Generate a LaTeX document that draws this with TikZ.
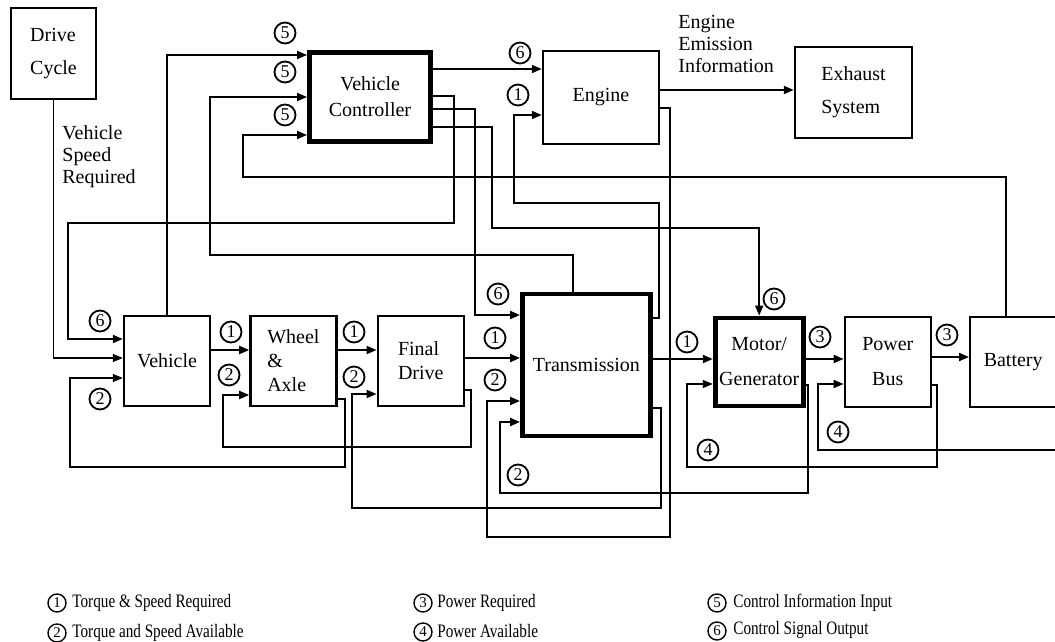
\documentclass[tikz,border=0pt]{standalone}
\usepackage{fontspec}
\setmainfont{Liberation Serif}
\newfontfamily\legendfont[FakeStretch=0.8]{Liberation Serif}
\usetikzlibrary{arrows.meta, positioning}

\begin{document}
\begin{tikzpicture}[x=0.5pt, y=-0.5pt,
        block/.style={draw, line width=1.2pt, minimum width=43pt, minimum height=45pt, inner sep=1pt, align=center},
        heavy/.style={block, line width=2.4pt},
        conn/.style={line width=1pt, -{Triangle[length=5pt, width=4pt]}},
        thinconn/.style={conn, line width=0.6pt},
        tag/.style={circle, draw, line width=0.9pt, inner sep=0pt, minimum size=10.5pt, font=\fontsize{9}{9}\selectfont},
        keytag/.style={tag, minimum size=9pt, line width=0.7pt, font=\fontsize{7.5}{7.5}\selectfont},
        keytext/.style={anchor=west, inner sep=0pt, font=\legendfont\fontsize{9.5}{10}\selectfont}]
    \useasboundingbox (0,0) rectangle (1055,642);

    % top row
    \node[block, align=left, minimum width=42.5pt, minimum height=45.5pt] (drive) at (53.5,53.5) {Drive\\[4.5pt]Cycle};
    \node[heavy, minimum width=60.5pt, minimum height=44.5pt] (vc) at (370,97) {Vehicle\\[1pt]Controller};
    \node[block, minimum width=58pt, minimum height=46.5pt] (engine) at (601,97.5) {Engine};
    \node[block, align=left, minimum width=58.5pt, minimum height=45.5pt] (exhaust) at (853.5,92.5) {Exhaust\\[4.5pt]System};

    % drive line, left to right
    \node[block] (vehicle) at (167,361) {Vehicle};
    \node[block, right=19pt of vehicle, align=left] (wheel) {Wheel\\\&\\Axle};
    \node[block, right=19.5pt of wheel, align=left] (final) {Final\\Drive};
    \node[heavy, right=27.5pt of final, yshift=-2pt, minimum width=64pt, minimum height=71pt] (trans) {Transmission};
    \node[heavy, right=30pt of trans, yshift=1.5pt, minimum width=44pt, minimum height=44pt, inner sep=0pt] (motor) {Motor/\\[5.5pt]Generator};
    \node[block, right=19pt of motor] (bus) {Power\\[5.5pt]Bus};
    \node[block, right=18.5pt of bus] (battery) {Battery};
    \coordinate (busfeed) at (1055,450); % runs off the right edge

    % free texts
    \node[align=left, anchor=west, inner sep=0pt] (speedreq) at (62,157) {Vehicle\\[-1pt]Speed\\[-1pt]Required};
    \node[align=left, anchor=west, inner sep=0pt] (emission) at (678,44) {Engine\\[-1pt]Emission\\[-1pt]Information};

    % controller inputs
    \draw[thinconn] (drive.south) |- (vehicle.west |- 0,358);
    \draw[conn] (vehicle.north) |- (vc.west |- 0,55);
    \draw[conn] (trans.north -| 573,0) |- (210,255) |- (vc.west |- 0,97);
    \draw[conn] (battery.north -| 1006,0) |- (243,177) |- (vc.west |- 0,135);

    % controller outputs
    \draw[conn] (vc.east |- 0,69) -- (engine.west |- 0,69);
    \draw[conn] (vc.east |- 0,96) -| (454,223) -| (68,339) -- (vehicle.west |- 0,339);
    \draw[conn] (vc.east |- 0,109) -| (475,315) -- (trans.west |- 0,315);
    \draw[conn] (vc.east |- 0,127) -| (492,228) -| (motor.north);

    % engine
    \draw[conn] (trans.east |- 0,318) -| (659,203) -| (514,115) -- (engine.west |- 0,115);
    \draw[conn] (engine.east |- 0,90) -- (exhaust.west |- 0,90);
    \draw[conn] (engine.east |- 0,108) -| (670,537) -| (487,401) -- (trans.west |- 0,401);

    % torque & speed / power required
    \draw[conn] (vehicle.east |- 0,350) -- (wheel.west |- 0,350);
    \draw[conn] (wheel.east |- 0,350) -- (final.west |- 0,350);
    \draw[conn] (final.east |- 0,358) -- (trans.west |- 0,358);
    \draw[conn] (trans.east |- 0,359) -- (motor.west |- 0,359);
    \draw[conn] (motor.east |- 0,359) -- (bus.west |- 0,359);
    \draw[conn] (bus.east |- 0,357) -- (battery.west |- 0,357);

    % torque & speed / power available
    \draw[thinconn] (wheel.east |- 0,399) -| (345,467) -| (70,378) -- (vehicle.west |- 0,378);
    \draw[conn] (final.east |- 0,390) -| (471,447) -| (223,395) -- (wheel.west |- 0,395);
    \draw[conn] (trans.east |- 0,408) -| (661,508) -| (352,394) -- (final.west |- 0,394);
    \draw[conn] (motor.east |- 0,385) -| (808,493) -| (500,422) -- (trans.west |- 0,422);
    \draw[thinconn] (bus.east |- 0,385) -| (937,467) -| (687,384) -- (motor.west |- 0,384);
    \draw[conn] (busfeed) -| (818,384) -- (bus.west |- 0,384);

    % signal tags
    \node[tag] (t5a) at (285,33) {5};
    \node[tag] (t5b) at (285,72) {5};
    \node[tag] (t5c) at (285,115) {5};
    \node[tag] (t6e) at (520,53) {6};
    \node[tag] (t1e) at (518,95) {1};
    \node[tag] (t6v) at (100,321) {6};
    \node[tag] (t2v) at (100,399) {2};
    \node[tag] (t1w) at (231,332) {1};
    \node[tag] (t2w) at (229,375) {2};
    \node[tag] (t1f) at (354,332) {1};
    \node[tag] (t2f) at (354,377) {2};
    \node[tag] (t6t) at (498,294) {6};
    \node[tag] (t1t) at (495,338) {1};
    \node[tag] (t2t) at (495,380) {2};
    \node[tag] (t2m) at (518,475) {2};
    \node[tag] (t1m) at (687,342) {1};
    \node[tag] (t6m) at (774,299) {6};
    \node[tag] (t3b) at (820,337) {3};
    \node[tag] (t3c) at (947,335) {3};
    \node[tag] (t4m) at (708,450) {4};
    \node[tag] (t4b) at (838,432) {4};

    % legend
    \node[keytag] (k1) at (57,603) {1};
    \node[keytext] (k1t) at (72,603) {Torque \& Speed Required};
    \node[keytag] (k2) at (57,633) {2};
    \node[keytext] (k2t) at (72,633) {Torque and Speed Available};
    \node[keytag] (k3) at (423,603) {3};
    \node[keytext] (k3t) at (437,603) {Power Required};
    \node[keytag] (k4) at (423,632) {4};
    \node[keytext] (k4t) at (437,631) {Power Available};
    \node[keytag] (k5) at (717,603) {5};
    \node[keytext] (k5t) at (733,603) {Control Information Input};
    \node[keytag] (k6) at (717,631) {6};
    \node[keytext] (k6t) at (733,630) {Control Signal Output};
\end{tikzpicture}
\end{document}
